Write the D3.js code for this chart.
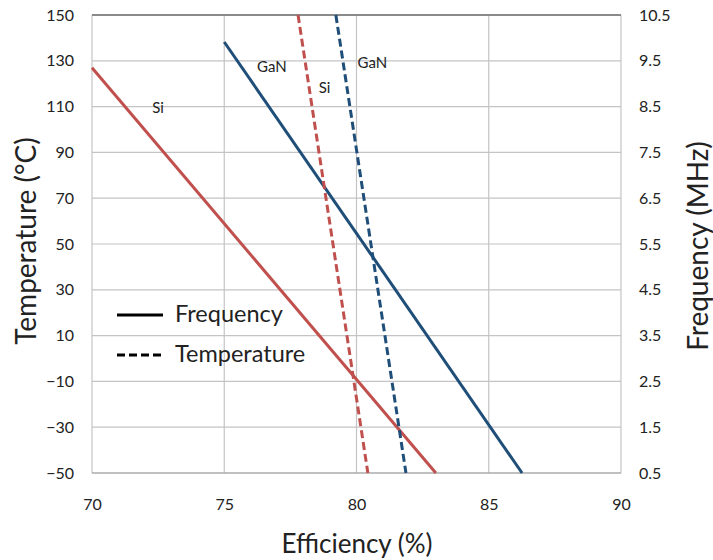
<!DOCTYPE html>
<html><head><meta charset="utf-8">
<script src="https://cdn.jsdelivr.net/npm/d3@7"></script>
<style>body{margin:0;background:#fff;} text{font-family:Lato,"Open Sans",sans-serif;fill:#222;}</style>
</head><body><svg id="c" width="713" height="560"></svg>
<script>
const xTicks = [70, 75, 80, 85, 90];
const tempTicks = [-50, -30, -10, 10, 30, 50, 70, 90, 110, 130, 150];
const freqTicks = [0.5, 1.5, 2.5, 3.5, 4.5, 5.5, 6.5, 7.5, 8.5, 9.5, 10.5];

// Frequency series (right axis)
const siFreqEff = [70, 83.0];
const siFreqMHz = [9.35, 0.5];
const ganFreqEff = [75, 86.26];
const ganFreqMHz = [9.91, 0.5];
// Temperature series (left axis)
const siTempEff = [77.79, 80.43];
const siTempC = [150, -50];
const ganTempEff = [79.22, 81.87];
const ganTempC = [150, -50];

const labels = [
  {text: "Si", eff: 72.5, temp: 107},
  {text: "GaN", eff: 76.8, temp: 125},
  {text: "Si", eff: 78.79, temp: 116},
  {text: "GaN", eff: 80.6, temp: 127}
];

const red = "#c0504d", blue = "#1f4e79";
const L = 92, R = 621, T = 15, B = 473;
const svg = d3.select("#c");
const x = d3.scaleLinear().domain([70, 90]).range([L, R]);
const yT = d3.scaleLinear().domain([-50, 150]).range([B, T]);
const yF = d3.scaleLinear().domain([0.5, 10.5]).range([B, T]);

// grid
const g = svg.append("g");
g.selectAll("line.h").data(tempTicks).join("line")
  .attr("x1", L).attr("x2", R).attr("y1", d => yT(d)).attr("y2", d => yT(d))
  .attr("stroke", "#c4c4c4").attr("stroke-width", 1.2);
g.selectAll("line.v").data(xTicks).join("line")
  .attr("x1", d => x(d)).attr("x2", d => x(d)).attr("y1", T).attr("y2", B)
  .attr("stroke", "#c4c4c4").attr("stroke-width", 1.2);
g.append("line").attr("x1", L).attr("x2", R).attr("y1", T).attr("y2", T)
  .attr("stroke", "#8a8a8a").attr("stroke-width", 2);
g.append("line").attr("x1", L).attr("x2", R).attr("y1", B).attr("y2", B)
  .attr("stroke", "#a0a0a0").attr("stroke-width", 1.2);

// axes
const axL = svg.append("g").attr("transform", `translate(${L},0)`)
  .call(d3.axisLeft(yT).tickValues(tempTicks).tickSize(0).tickPadding(18));
const axR = svg.append("g").attr("transform", `translate(${R},0)`)
  .call(d3.axisRight(yF).tickValues(freqTicks).tickSize(0).tickPadding(18).tickFormat(d3.format(".1f")));
const axB = svg.append("g").attr("transform", `translate(0,${B})`)
  .call(d3.axisBottom(x).tickValues(xTicks).tickSize(0).tickPadding(26));
[axL, axR, axB].forEach(a => {
  a.select(".domain").remove();
  a.selectAll("text").style("font-size", "16px").attr("fill", "#222");
});

// lines
const lineF = d3.line().x(d => x(d[0])).y(d => yF(d[1]));
const lineT = d3.line().x(d => x(d[0])).y(d => yT(d[1]));
const zip = (a, b) => a.map((v, i) => [v, b[i]]);
svg.append("path").attr("d", lineF(zip(siFreqEff, siFreqMHz))).attr("stroke", red).attr("stroke-width", 3).attr("fill", "none");
svg.append("path").attr("d", lineF(zip(ganFreqEff, ganFreqMHz))).attr("stroke", blue).attr("stroke-width", 3).attr("fill", "none");
svg.append("path").attr("d", lineT(zip(siTempEff, siTempC))).attr("stroke", red).attr("stroke-width", 3).attr("stroke-dasharray", "8,4").attr("fill", "none");
svg.append("path").attr("d", lineT(zip(ganTempEff, ganTempC))).attr("stroke", blue).attr("stroke-width", 3).attr("stroke-dasharray", "8,4").attr("fill", "none");

// series labels
svg.selectAll("text.lab").data(labels).join("text").attr("class", "lab")
  .attr("x", d => x(d.eff)).attr("y", d => yT(d.temp))
  .attr("text-anchor", "middle").style("font-size", "15px").text(d => d.text);

// legend
const leg = svg.append("g");
leg.append("line").attr("x1", 117).attr("x2", 163).attr("y1", 315).attr("y2", 315).attr("stroke", "#000").attr("stroke-width", 3);
leg.append("text").attr("x", 175).attr("y", 322).style("font-size", "23.5px").text("Frequency");
leg.append("line").attr("x1", 117).attr("x2", 163).attr("y1", 355).attr("y2", 355).attr("stroke", "#000").attr("stroke-width", 3).attr("stroke-dasharray", "8,4");
leg.append("text").attr("x", 175).attr("y", 362).style("font-size", "23.5px").text("Temperature");

// axis titles
svg.append("text").attr("transform", `translate(36,241) rotate(-90)`).attr("text-anchor", "middle")
  .style("font-size", "28px").text("Temperature (°C)");
svg.append("text").attr("transform", `translate(708,246) rotate(-90)`).attr("text-anchor", "middle")
  .style("font-size", "28px").text("Frequency (MHz)");
svg.append("text").attr("x", 357).attr("y", 553).attr("text-anchor", "middle")
  .style("font-size", "26px").text("Efficiency (%)");
</script></body></html>
